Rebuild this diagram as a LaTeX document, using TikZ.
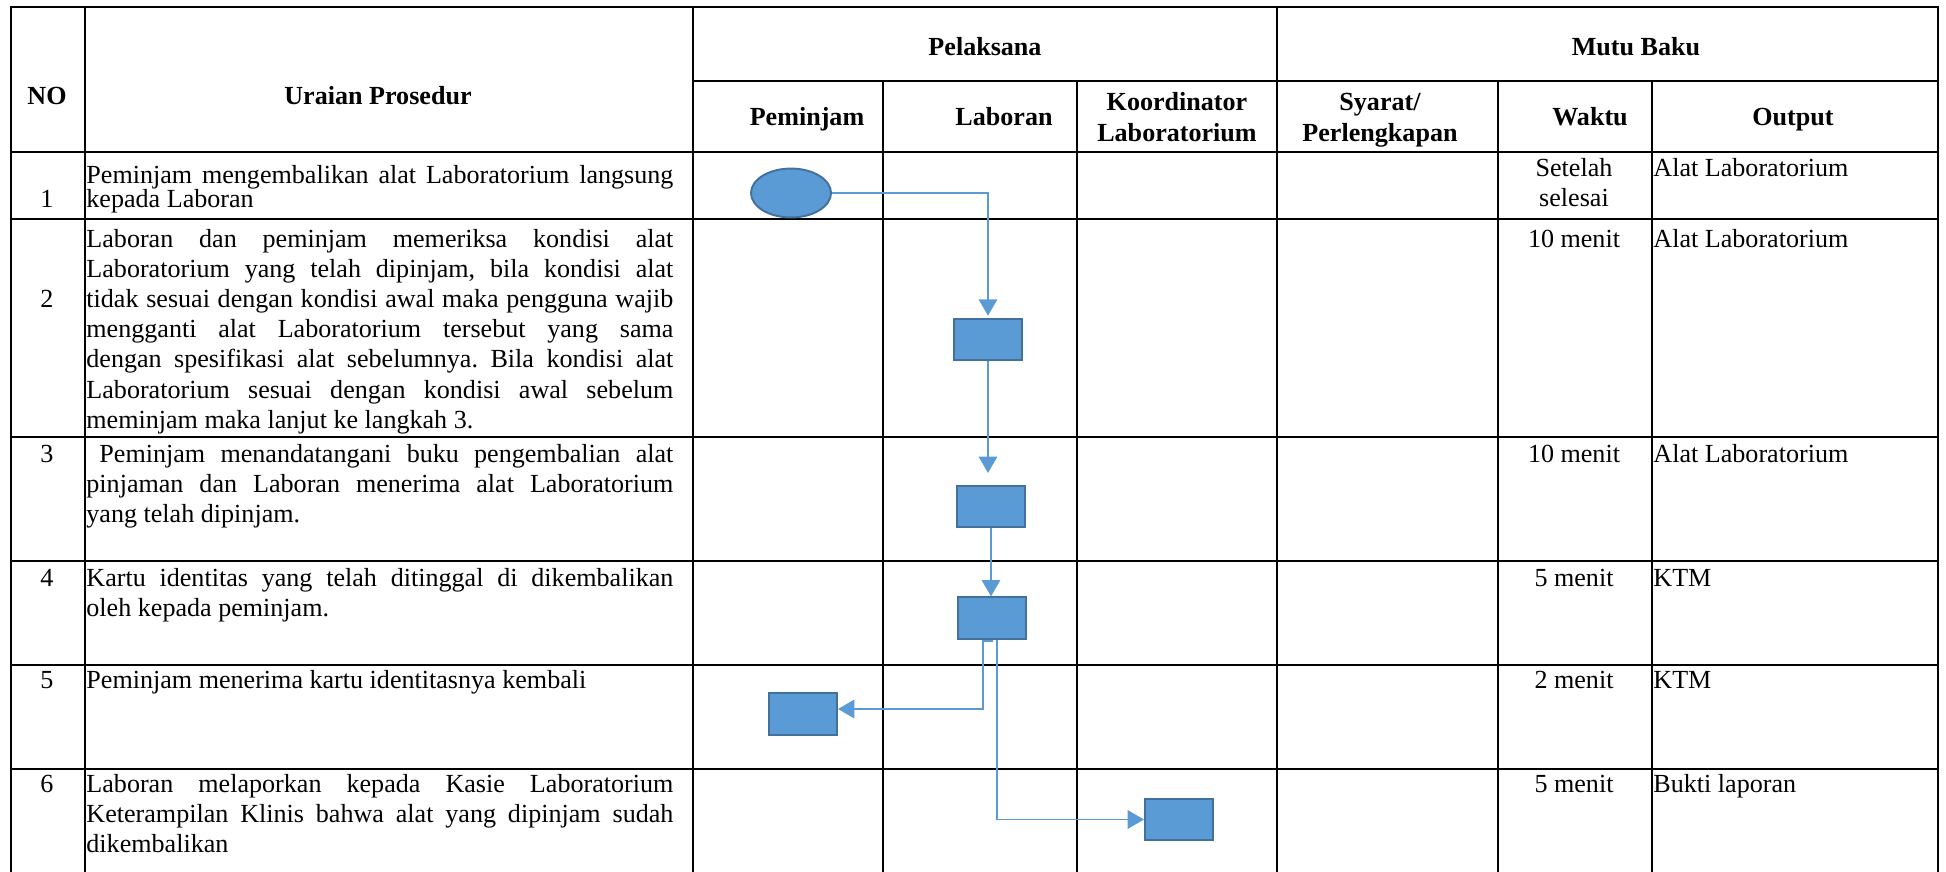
\documentclass[tikz,border=0pt]{standalone}
\usepackage{fontspec}
\setmainfont{Liberation Serif}
\usetikzlibrary{arrows.meta,shapes.geometric}
\definecolor{shapefill}{HTML}{5B9BD5}
\definecolor{shapeline}{HTML}{41719C}
\definecolor{connblue}{HTML}{5B9BD5}
\newcommand{\jline}[1]{\makebox[270pt][s]{#1}}
\frenchspacing
\begin{document}
\begin{tikzpicture}[x=0.46pt,y=-0.46pt,
  grid/.style={line width=0.95pt, black, line cap=rect},
  txt/.style={inner sep=0pt, font=\fontsize{12}{13.9}\selectfont},
  hdr/.style={inner sep=0pt, font=\fontsize{12}{14.3}\selectfont\bfseries},
  ovalbox/.style={ellipse, draw=shapeline, fill=shapefill, line width=0.9pt, minimum width=36.8pt, minimum height=22.5pt, inner sep=0pt},
  procbox/.style={rectangle, draw=shapeline, fill=shapefill, line width=0.9pt, minimum width=31.3pt, minimum height=19pt, inner sep=0pt},
  conn/.style={draw=connblue, line width=0.8pt, -{Triangle[length=7.5pt,width=8.5pt]}},
]
\useasboundingbox (0,0) rectangle (1946,871);

% grid
\draw[grid] (11,7) -- (1938,7);
\draw[grid] (693,81) -- (1938,81);
\foreach \y in {152,219,437,561,665,769} \draw[grid] (11,\y) -- (1938,\y);
\foreach \x in {11,85,693,1277,1938} \draw[grid] (\x,7) -- (\x,871);
\foreach \x in {883,1077,1498,1652} \draw[grid] (\x,81) -- (\x,871);

% headers
\node[hdr, anchor=base] (hNO) at (47,104) {NO};
\node[hdr, anchor=base] (hUP) at (378,104) {Uraian Prosedur};
\node[hdr, anchor=base] (hPel) at (985,55) {Pelaksana};
\node[hdr, anchor=base] (hMB) at (1636,55) {Mutu Baku};
\node[hdr, anchor=base] (hPem) at (807,125.6) {Peminjam};
\node[hdr, anchor=base] (hLab) at (1004,125.6) {Laboran};
\node[hdr, anchor=base] (hKL) at (1177,110.5) {\parbox[t]{120pt}{\centering Koordinator\\Laboratorium}};
\node[hdr, anchor=base] (hSP) at (1380,110.5) {\parbox[t]{120pt}{\centering Syarat/\\Perlengkapan}};
\node[hdr, anchor=base] (hW) at (1590,125.6) {Waktu};
\node[hdr, anchor=base] (hO) at (1793,125.6) {Output};

% numbers
\node[txt, anchor=base] (n1) at (47,207) {1};
\node[txt, anchor=base] (n2) at (47,307) {2};
\node[txt, anchor=base] (n3) at (47,462) {3};
\node[txt, anchor=base] (n4) at (47,586) {4};
\node[txt, anchor=base] (n5) at (47,688) {5};
\node[txt, anchor=base] (n6) at (47,792) {6};

% procedure text
\node[txt, anchor=base west] (u1) at (86,183) {\parbox[t]{272pt}{\fontsize{12}{11.4}\selectfont\jline{Peminjam mengembalikan alat Laboratorium langsung}\\kepada Laboran}};
\node[txt, anchor=base west] (u2) at (86,247) {\parbox[t]{272pt}{%
\jline{Laboran dan peminjam memeriksa kondisi alat}\\
\jline{Laboratorium yang telah dipinjam, bila kondisi alat}\\
\jline{tidak sesuai dengan kondisi awal maka pengguna wajib}\\
\jline{mengganti alat Laboratorium tersebut yang sama}\\
\jline{dengan spesifikasi alat sebelumnya. Bila kondisi alat}\\
\jline{Laboratorium sesuai dengan kondisi awal sebelum}\\
meminjam maka lanjut ke langkah 3.}};
\node[txt, anchor=base west] (u3) at (86,462) {\parbox[t]{272pt}{%
\jline{\hspace*{6pt}Peminjam menandatangani buku pengembalian alat}\\
\jline{pinjaman dan Laboran menerima alat Laboratorium}\\
yang telah dipinjam.}};
\node[txt, anchor=base west] (u4) at (86,586) {\parbox[t]{272pt}{%
\jline{Kartu identitas yang telah ditinggal di dikembalikan}\\
oleh kepada peminjam.}};
\node[txt, anchor=base west] (u5) at (86,688) {Peminjam menerima kartu identitasnya kembali};
\node[txt, anchor=base west] (u6) at (86,792) {\parbox[t]{272pt}{%
\jline{Laboran melaporkan kepada Kasie Laboratorium}\\
\jline{Keterampilan Klinis bahwa alat yang dipinjam sudah}\\
dikembalikan}};

% waktu
\node[txt, anchor=base] (w1) at (1574,176) {\parbox[t]{70pt}{\centering Setelah\\selesai}};
\node[txt, anchor=base] (w2) at (1574,247) {10 menit};
\node[txt, anchor=base] (w3) at (1574,462) {10 menit};
\node[txt, anchor=base] (w4) at (1574,586) {5 menit};
\node[txt, anchor=base] (w5) at (1574,688) {2 menit};
\node[txt, anchor=base] (w6) at (1574,792) {5 menit};

% output
\node[txt, anchor=base west] (o1) at (1653,176) {Alat Laboratorium};
\node[txt, anchor=base west] (o2) at (1653,247) {Alat Laboratorium};
\node[txt, anchor=base west] (o3) at (1653,462) {Alat Laboratorium};
\node[txt, anchor=base west] (o4) at (1653,586) {KTM};
\node[txt, anchor=base west] (o5) at (1653,688) {KTM};
\node[txt, anchor=base west] (o6) at (1653,792) {Bukti laporan};

% flow shapes
\node[ovalbox] (e1) at (791,193) {};
\node[procbox] (b2) at (988,339.5) {};
\node[procbox] (b3) at (991,506.5) {};
\node[procbox] (b4) at (992,618) {};
\node[procbox] (b5) at (803,714) {};
\node[procbox] (b6) at (1179,819.5) {};

% connectors
\draw[conn, shorten >=1pt] (e1.east) -| (b2.north);
\draw[conn, shorten >=5.5pt] (b2.south) -- (b2.south |- b3.north);
\draw[conn] (b3.south) -- (b3.south |- b4.north);
\draw[conn] (b4.south) -- ++(0,-0.6pt) -- ++(-4.1pt,0) |- ([yshift=2.3pt]b5.east);
\draw[conn] ([xshift=2.3pt]b4.south) |- (b6.west);
\end{tikzpicture}
\end{document}
